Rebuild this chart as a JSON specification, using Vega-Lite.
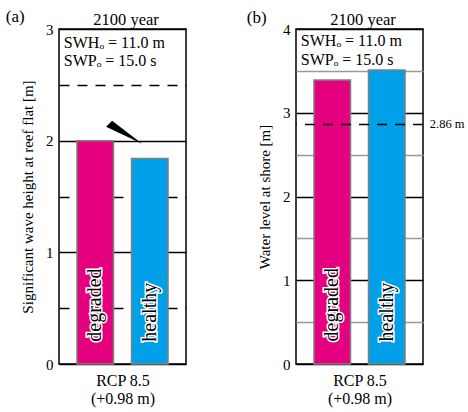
{
  "$schema": "https://vega.github.io/schema/vega-lite/v6.json",
  "background": "white",
  "padding": {"left": 5, "top": 7, "right": 0, "bottom": 3},
  "datasets": {
    "wave": [{"reef": "degraded", "value": 2.0}, {"reef": "healthy", "value": 1.84}],
    "level": [{"reef": "degraded", "value": 3.39}, {"reef": "healthy", "value": 3.51}]
  },
  "config": {
    "font": "Liberation Serif",
    "view": {"stroke": "black", "strokeWidth": 1.5},
    "axis": {"labelFont": "Liberation Serif", "titleFont": "Liberation Serif", "labelColor": "black", "titleColor": "black", "titleFontWeight": "normal", "domain": false, "ticks": false},
    "text": {"font": "Liberation Serif"}
  },
  "spacing": 59,
  "hconcat": [
    {
      "width": 127,
      "height": 335,
      "layer": [
        {
          "data": {"name": "wave"},
          "mark": {"type": "bar", "stroke": "#808080", "strokeWidth": 1.5},
          "encoding": {
            "x": {"field": "reef", "type": "nominal", "scale": {"domain": ["degraded", "healthy"], "paddingInner": 0.33, "paddingOuter": 0.33}, "axis": {"labels": false, "title": ["RCP 8.5", "(+0.98 m)"], "titleFont": "Liberation Serif", "titleFontSize": 16, "titlePadding": 8, "titleLineHeight": 18}},
            "y": {"field": "value", "type": "quantitative", "scale": {"domain": [0, 3], "nice": false}, "axis": {"values": [0, 0.5, 1, 1.5, 2, 2.5, 3], "labelExpr": "datum.value % 1 === 0 ? format(datum.value, 'd') : ''", "labelFont": "Liberation Serif", "labelFontSize": 15, "labelPadding": 6, "title": "Significant wave height at reef flat [m]", "titleFont": "Liberation Serif", "titleFontSize": 15, "titlePadding": 10, "grid": true, "gridColor": "black", "gridWidth": 1.5, "gridOpacity": 1, "gridDash": {"condition": {"test": "datum.value % 1 !== 0", "value": [10, 8]}, "value": []}}},
            "color": {"field": "reef", "type": "nominal", "scale": {"domain": ["degraded", "healthy"], "range": ["#E4007F", "#00A0E9"]}, "legend": null}
          }
        },
        {
          "data": {"name": "wave"},
          "mark": {"type": "text", "angle": 270, "align": "left", "baseline": "middle", "fontSize": 20, "fill": "white", "stroke": "white", "strokeWidth": 3},
          "encoding": {"x": {"field": "reef", "type": "nominal"}, "y": {"datum": 0.2}, "text": {"field": "reef"}}
        },
        {
          "data": {"name": "wave"},
          "mark": {"type": "text", "angle": 270, "align": "left", "baseline": "middle", "fontSize": 20, "fill": "black"},
          "encoding": {"x": {"field": "reef", "type": "nominal"}, "y": {"datum": 0.2}, "text": {"field": "reef"}}
        },
        {
          "data": {"values": [{}]},
          "mark": {"type": "text", "text": "2100 year", "align": "center", "baseline": "alphabetic", "fontSize": 16.5, "fill": "black"},
          "encoding": {"x": {"datum": "healthy", "bandPosition": -0.15}, "y": {"datum": 3.036}}
        },
        {
          "data": {"values": [{}]},
          "mark": {"type": "text", "text": "SWHₒ = 11.0 m", "align": "left", "baseline": "alphabetic", "fontSize": 16, "fill": "black"},
          "encoding": {"x": {"datum": "degraded", "bandPosition": -0.36}, "y": {"datum": 2.83}}
        },
        {
          "data": {"values": [{}]},
          "mark": {"type": "text", "text": "SWPₒ = 15.0 s", "align": "left", "baseline": "alphabetic", "fontSize": 16, "fill": "black"},
          "encoding": {"x": {"datum": "degraded", "bandPosition": -0.36}, "y": {"datum": 2.67}}
        },
        {
          "data": {"values": [{}]},
          "mark": {"type": "point", "shape": "M 0.9 0.55 L -0.9 -0.3 L -0.6 -0.6 Z", "size": 1600, "filled": true, "color": "black", "opacity": 1},
          "encoding": {"x": {"datum": "degraded", "bandPosition": 1.29}, "y": {"datum": 2.07}}
        },
        {
          "data": {"values": [{}]},
          "mark": {"type": "text", "text": "(a)", "align": "left", "baseline": "alphabetic", "fontSize": 17, "fill": "black"},
          "encoding": {"x": {"datum": "degraded", "bandPosition": -1.95}, "y": {"datum": 3.063}}
        }
      ]
    },
    {
      "width": 127,
      "height": 335,
      "layer": [
        {
          "data": {"name": "level"},
          "mark": {"type": "bar", "stroke": "#808080", "strokeWidth": 1.5},
          "encoding": {
            "x": {"field": "reef", "type": "nominal", "scale": {"domain": ["degraded", "healthy"], "paddingInner": 0.33, "paddingOuter": 0.33}, "axis": {"labels": false, "title": ["RCP 8.5", "(+0.98 m)"], "titleFont": "Liberation Serif", "titleFontSize": 16, "titlePadding": 8, "titleLineHeight": 18}},
            "y": {"field": "value", "type": "quantitative", "scale": {"domain": [0, 4], "nice": false}, "axis": {"values": [0, 0.5, 1, 1.5, 2, 2.5, 3, 3.5, 4], "labelExpr": "datum.value % 1 === 0 ? format(datum.value, 'd') : ''", "labelFont": "Liberation Serif", "labelFontSize": 15, "labelPadding": 6, "title": "Water level at shore [m]", "titleFont": "Liberation Serif", "titleFontSize": 15, "titlePadding": 10, "grid": true, "gridOpacity": 1, "gridWidth": 1.5, "gridColor": {"condition": {"test": "datum.value % 1 !== 0", "value": "#999999"}, "value": "black"}}},
            "color": {"field": "reef", "type": "nominal", "scale": {"domain": ["degraded", "healthy"], "range": ["#E4007F", "#00A0E9"]}, "legend": null}
          }
        },
        {
          "data": {"values": [{}]},
          "mark": {"type": "rule", "color": "black", "strokeWidth": 1.5, "strokeDash": [10, 8]},
          "encoding": {"y": {"datum": 2.86}}
        },
        {
          "data": {"values": [{}]},
          "mark": {"type": "text", "text": "2.86 m", "align": "left", "baseline": "middle", "fontSize": 12.5, "fill": "black"},
          "encoding": {"x": {"datum": "healthy", "bandPosition": 1.68}, "y": {"datum": 2.86}}
        },
        {
          "data": {"name": "level"},
          "mark": {"type": "text", "angle": 270, "align": "left", "baseline": "middle", "fontSize": 20, "fill": "white", "stroke": "white", "strokeWidth": 3},
          "encoding": {"x": {"field": "reef", "type": "nominal"}, "y": {"datum": 0.27}, "text": {"field": "reef"}}
        },
        {
          "data": {"name": "level"},
          "mark": {"type": "text", "angle": 270, "align": "left", "baseline": "middle", "fontSize": 20, "fill": "black"},
          "encoding": {"x": {"field": "reef", "type": "nominal"}, "y": {"datum": 0.27}, "text": {"field": "reef"}}
        },
        {
          "data": {"values": [{}]},
          "mark": {"type": "text", "text": "2100 year", "align": "center", "baseline": "alphabetic", "fontSize": 16.5, "fill": "black"},
          "encoding": {"x": {"datum": "healthy", "bandPosition": -0.15}, "y": {"datum": 4.048}}
        },
        {
          "data": {"values": [{}]},
          "mark": {"type": "text", "text": "SWHₒ = 11.0 m", "align": "left", "baseline": "alphabetic", "fontSize": 16, "fill": "black"},
          "encoding": {"x": {"datum": "degraded", "bandPosition": -0.36}, "y": {"datum": 3.8}}
        },
        {
          "data": {"values": [{}]},
          "mark": {"type": "text", "text": "SWPₒ = 15.0 s", "align": "left", "baseline": "alphabetic", "fontSize": 16, "fill": "black"},
          "encoding": {"x": {"datum": "degraded", "bandPosition": -0.36}, "y": {"datum": 3.57}}
        },
        {
          "data": {"values": [{}]},
          "mark": {"type": "text", "text": "(b)", "align": "left", "baseline": "alphabetic", "fontSize": 17, "fill": "black"},
          "encoding": {"x": {"datum": "degraded", "bandPosition": -1.84}, "y": {"datum": 4.07}}
        }
      ]
    }
  ]
}
